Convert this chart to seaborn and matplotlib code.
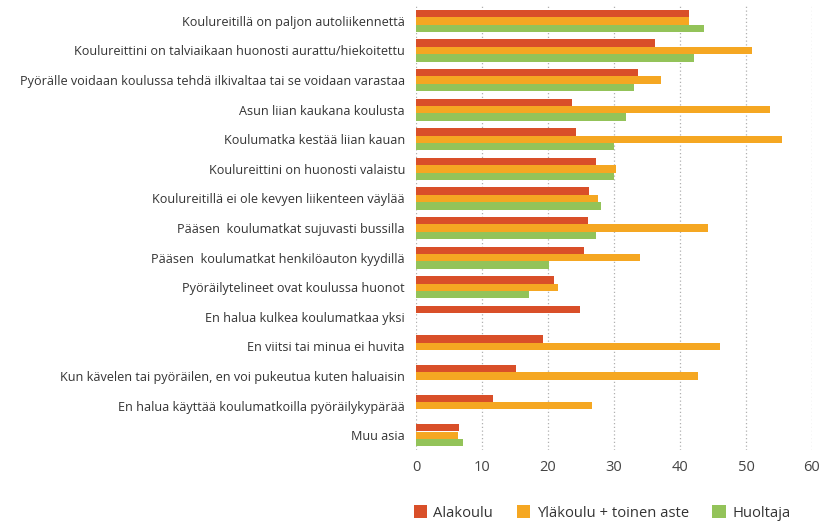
import matplotlib
matplotlib.use("Agg")
import matplotlib.pyplot as plt
import seaborn as sns
import pandas as pd
import numpy as np
from matplotlib.patches import Patch

categories = [
    "Koulureitillä on paljon autoliikennettä",
    "Koulureittini on talviaikaan huonosti aurattu/hiekoitettu",
    "Pyörälle voidaan koulussa tehdä ilkivaltaa tai se voidaan varastaa",
    "Asun liian kaukana koulusta",
    "Koulumatka kestää liian kauan",
    "Koulureittini on huonosti valaistu",
    "Koulureitillä ei ole kevyen liikenteen väylää",
    "Pääsen  koulumatkat sujuvasti bussilla",
    "Pääsen  koulumatkat henkilöauton kyydillä",
    "Pyöräilytelineet ovat koulussa huonot",
    "En halua kulkea koulumatkaa yksi",
    "En viitsi tai minua ei huvita",
    "Kun kävelen tai pyöräilen, en voi pukeutua kuten haluaisin",
    "En halua käyttää koulumatkoilla pyöräilykypärää",
    "Muu asia",
]
series_names = ["Alakoulu", "Yläkoulu + toinen aste", "Huoltaja"]
alakoulu = [41.3, 36.2, 33.6, 23.6, 24.2, 27.2, 26.2, 26.0, 25.5, 20.9, 24.9, 19.2, 15.2, 11.6, 6.5]
ylakoulu = [41.3, 50.9, 37.1, 53.7, 55.4, 30.3, 27.5, 44.2, 33.9, 21.5, 0.0, 46.0, 42.8, 26.6, 6.3]
huoltaja = [43.6, 42.1, 33.1, 31.8, 30.0, 30.0, 28.0, 27.2, 20.1, 17.1, 0.0, 0.0, 0.0, 0.0, 7.1]
x_ticks = [0, 10, 20, 30, 40, 50, 60]
colors = ["#D94F29", "#F5A722", "#93C359"]

df = pd.DataFrame({
    "kategoria": categories * 3,
    "ryhmä": np.repeat(series_names, len(categories)),
    "osuus": alakoulu + ylakoulu + huoltaja,
})

sns.set_theme(style="white")
plt.rcParams["font.family"] = ["Open Sans", "DejaVu Sans"]

fig = plt.figure(figsize=(8.27, 5.23), dpi=100)
ax = fig.add_axes([416 / 827, 1 - 450 / 523, (812 - 416) / 827, (450 - 6) / 523])

sns.barplot(data=df, y="kategoria", x="osuus", hue="ryhmä", orient="h",
            palette=colors, width=0.75, saturation=1, linewidth=0,
            ax=ax, legend=False)

ax.set_xlim(0, 60)
ax.set_xticks(x_ticks)
ax.set_xlabel("")
ax.set_ylabel("")
for s in ax.spines.values():
    s.set_visible(False)
ax.grid(axis="x", linestyle=(0, (1, 2)), color="#b0b0b0", linewidth=0.9)
ax.grid(axis="y", visible=False)
ax.set_axisbelow(True)
ax.tick_params(axis="y", length=0, pad=8, labelsize=9.1, labelcolor="#333333")
ax.tick_params(axis="x", length=0, pad=7, labelsize=10.5, labelcolor="#444444")

handles = [Patch(facecolor=c, edgecolor="none") for c in colors]
fig.legend(handles, series_names, loc="center", bbox_to_anchor=(602 / 827, 1 - 513 / 523),
           ncol=3, frameon=False, fontsize=10.6, handlelength=0.9, handleheight=0.9,
           handletextpad=0.45, columnspacing=1.6, labelcolor="#333333")

fig.savefig("out.png", dpi=100)
